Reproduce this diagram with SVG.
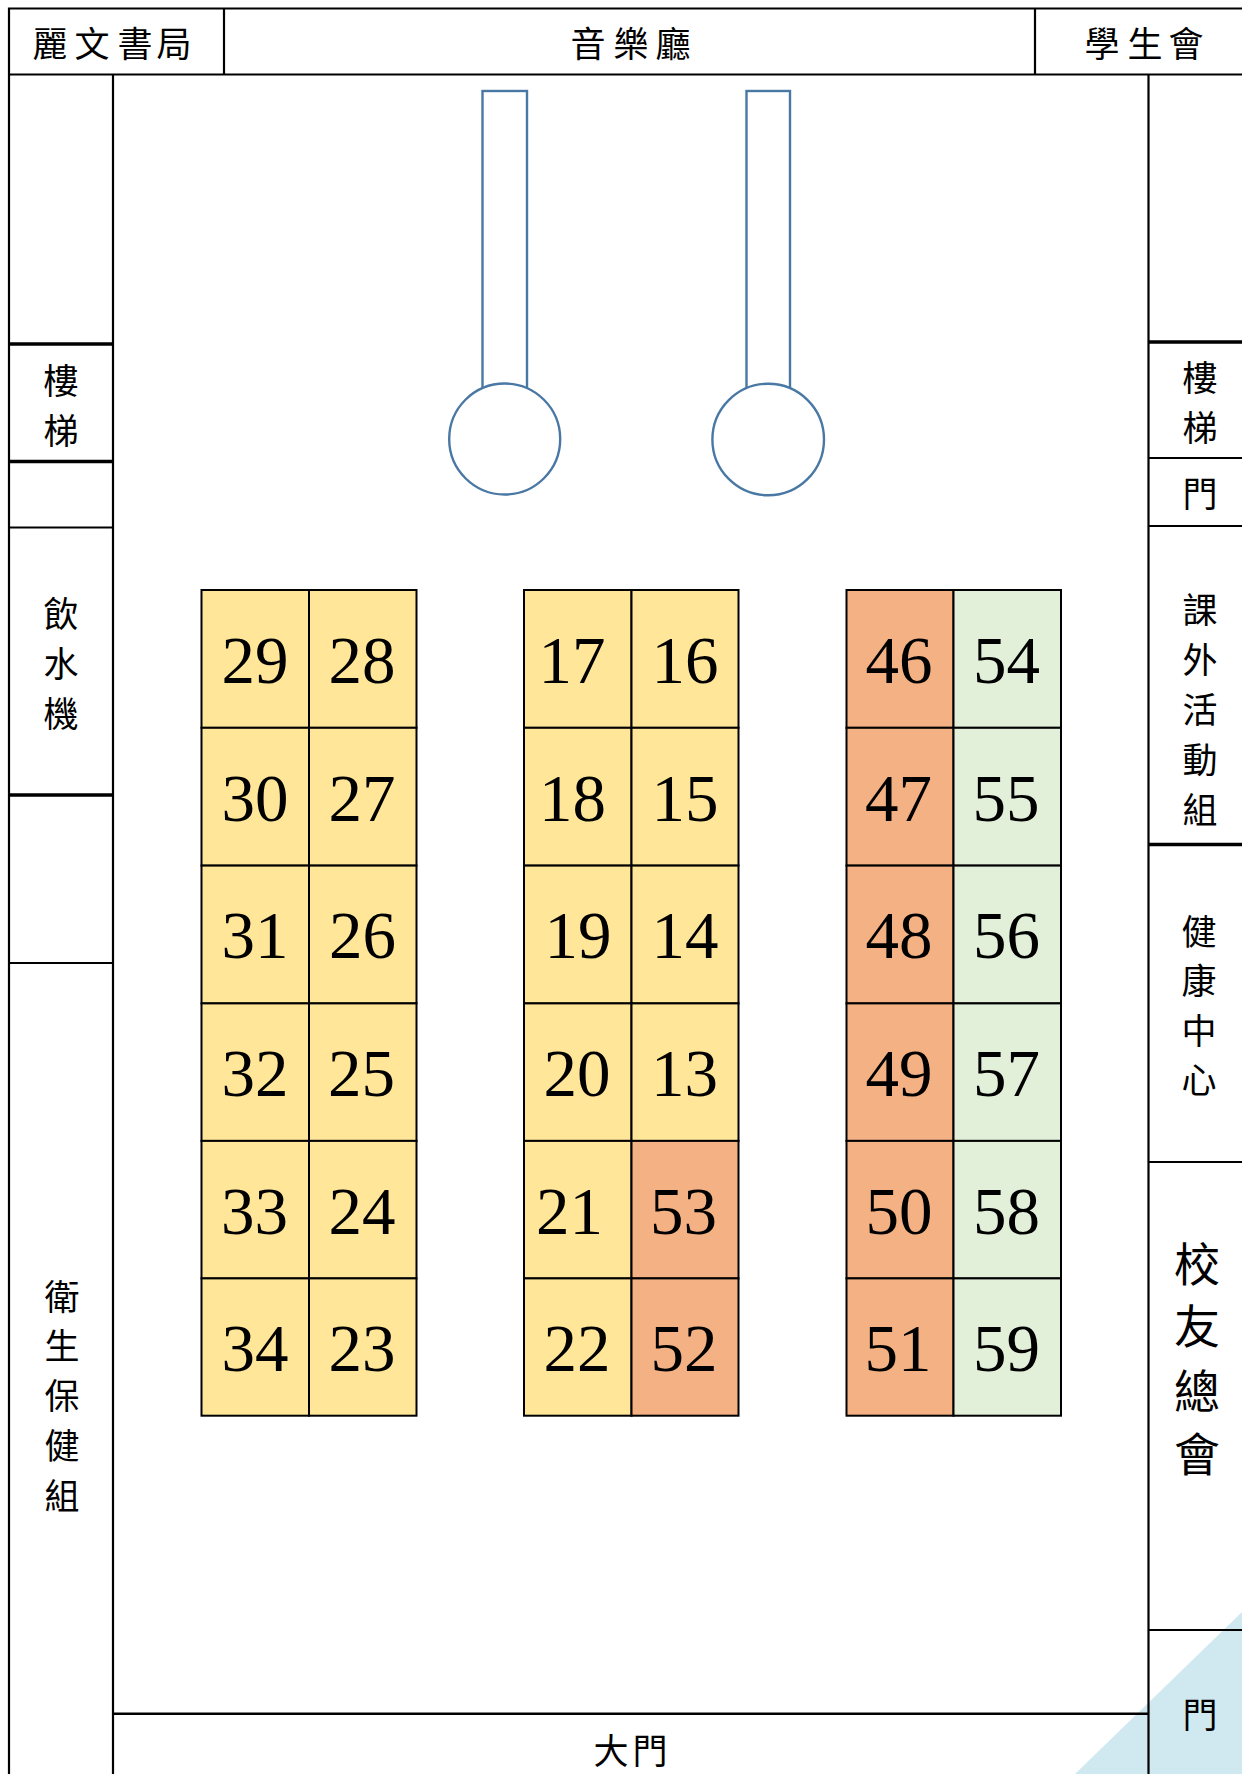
<svg xmlns="http://www.w3.org/2000/svg" width="1242" height="1774" viewBox="0 0 1242 1774">
<style>
.w{stroke:#000;stroke-width:2.2;fill:none}
.t{stroke:#000;stroke-width:3.4;fill:none}
.c{font-family:"Noto Sans CJK TC","Noto Sans CJK SC",sans-serif;font-size:35px;text-anchor:middle;fill:#000}
.n{font-family:"Liberation Serif",serif;font-size:67px;text-anchor:middle;fill:#000}
.y{fill:#FFE699;stroke:#000;stroke-width:2}
.o{fill:#F4B183;stroke:#000;stroke-width:2}
.g{fill:#E2F0D9;stroke:#000;stroke-width:2}
.p{fill:#fff;stroke:#4A78A4;stroke-width:2.4}
</style>
<rect width="1242" height="1774" fill="#fff"/>
<polygon id="door-corner" points="1075,1774 1242,1612 1242,1774" fill="#D0E9F1"/>
<g id="walls">
<path class="w" d="M9 1774V8.500H1242M9 74.500H1242M224 8.500V74.500M1035 8.500V74.500M113 74.500V1774M1148.500 74.500V1774"/>
<path class="t" d="M9 344H113M9 461.500H113M9 795H113M1148.500 342H1242M1148.500 844.500H1242"/>
<path class="w" d="M9 527.500H113M9 963H113M1148.500 458H1242M1148.500 526H1242M1148.500 1162H1242M1148.500 1630H1242"/>
<path class="t" d="M113 1713.700H1148.500" style="stroke-width:2.600"/>
</g>
<g id="shop"><text class="c" x="50 92 135 174" y="57">麗文書局</text></g>
<g id="hall"><text class="c" x="588 631 673" y="57">音樂廳</text></g>
<g id="union"><text class="c" x="1102 1145 1186" y="57">學生會</text></g>
<g id="stairs-left"><text class="c" x="61 61" y="394 444">樓梯</text></g>
<g id="water"><text class="c" x="61 61 61" y="627 677 727">飲水機</text></g>
<g id="health-group"><text class="c" x="62 62 62 62 62" y="1310 1359 1409 1459 1509">衛生保健組</text></g>
<g id="stairs-right"><text class="c" x="1200 1200" y="391 441">樓梯</text></g>
<g id="door-upper"><text class="c" x="1200" y="507">門</text></g>
<g id="activities"><text class="c" x="1200 1200 1200 1200 1200" y="623 673 723 773 823">課外活動組</text></g>
<g id="health-center"><text class="c" x="1199 1199 1199 1199" y="945 994 1044 1093">健康中心</text></g>
<g id="alumni"><text class="c" style="font-size:46px" x="1197 1197 1197 1197" y="1281 1343 1408 1471">校友總會</text></g>
<g id="door-lower"><text class="c" x="1200" y="1728">門</text></g>
<g id="main-door"><text class="c" x="611 650" y="1764">大門</text></g>
<g id="pillar-1"><rect class="p" x="482.500" y="91" width="44.500" height="310"/><circle class="p" cx="504.700" cy="439" r="55.500"/></g>
<g id="pillar-2"><rect class="p" x="746.500" y="91" width="43.500" height="310"/><circle class="p" cx="768.200" cy="439.500" r="55.800"/></g>
<g id="s29"><rect class="y" x="201.500" y="590" width="107.500" height="137.800"/><text class="n" x="255" y="683">29</text></g>
<g id="s28"><rect class="y" x="309" y="590" width="107.500" height="137.800"/><text class="n" x="362" y="683">28</text></g>
<g id="s30"><rect class="y" x="201.500" y="727.800" width="107.500" height="137.800"/><text class="n" x="255" y="821">30</text></g>
<g id="s27"><rect class="y" x="309" y="727.800" width="107.500" height="137.800"/><text class="n" x="362" y="821">27</text></g>
<g id="s31"><rect class="y" x="201.500" y="865.600" width="107.500" height="137.800"/><text class="n" x="255" y="958">31</text></g>
<g id="s26"><rect class="y" x="309" y="865.600" width="107.500" height="137.800"/><text class="n" x="362.500" y="958">26</text></g>
<g id="s32"><rect class="y" x="201.500" y="1003.400" width="107.500" height="137.500"/><text class="n" x="255" y="1096">32</text></g>
<g id="s25"><rect class="y" x="309" y="1003.400" width="107.500" height="137.500"/><text class="n" x="361.500" y="1096">25</text></g>
<g id="s33"><rect class="y" x="201.500" y="1140.900" width="107.500" height="137.500"/><text class="n" x="254.500" y="1234">33</text></g>
<g id="s24"><rect class="y" x="309" y="1140.900" width="107.500" height="137.500"/><text class="n" x="362" y="1234">24</text></g>
<g id="s34"><rect class="y" x="201.500" y="1278.400" width="107.500" height="137.300"/><text class="n" x="255" y="1371">34</text></g>
<g id="s23"><rect class="y" x="309" y="1278.400" width="107.500" height="137.300"/><text class="n" x="362" y="1371">23</text></g>
<g id="s17"><rect class="y" x="524" y="590" width="107.500" height="137.800"/><text class="n" x="572" y="683">17</text></g>
<g id="s16"><rect class="y" x="631.500" y="590" width="107" height="137.800"/><text class="n" x="685" y="683">16</text></g>
<g id="s18"><rect class="y" x="524" y="727.800" width="107.500" height="137.800"/><text class="n" x="572.500" y="821">18</text></g>
<g id="s15"><rect class="y" x="631.500" y="727.800" width="107" height="137.800"/><text class="n" x="685" y="821">15</text></g>
<g id="s19"><rect class="y" x="524" y="865.600" width="107.500" height="137.800"/><text class="n" x="578" y="958">19</text></g>
<g id="s14"><rect class="y" x="631.500" y="865.600" width="107" height="137.800"/><text class="n" x="685" y="958">14</text></g>
<g id="s20"><rect class="y" x="524" y="1003.400" width="107.500" height="137.500"/><text class="n" x="577" y="1096">20</text></g>
<g id="s13"><rect class="y" x="631.500" y="1003.400" width="107" height="137.500"/><text class="n" x="684.500" y="1096">13</text></g>
<g id="s21"><rect class="y" x="524" y="1140.900" width="107.500" height="137.500"/><text class="n" x="569.500" y="1234">21</text></g>
<g id="s53"><rect class="o" x="631.500" y="1140.900" width="107" height="137.500"/><text class="n" x="683.500" y="1234">53</text></g>
<g id="s22"><rect class="y" x="524" y="1278.400" width="107.500" height="137.300"/><text class="n" x="577" y="1371">22</text></g>
<g id="s52"><rect class="o" x="631.500" y="1278.400" width="107" height="137.300"/><text class="n" x="684" y="1371">52</text></g>
<g id="s46"><rect class="o" x="846.500" y="590" width="107" height="137.800"/><text class="n" x="899" y="683">46</text></g>
<g id="s54"><rect class="g" x="953.500" y="590" width="107.500" height="137.800"/><text class="n" x="1006.500" y="683">54</text></g>
<g id="s47"><rect class="o" x="846.500" y="727.800" width="107" height="137.800"/><text class="n" x="898.500" y="821">47</text></g>
<g id="s55"><rect class="g" x="953.500" y="727.800" width="107.500" height="137.800"/><text class="n" x="1006" y="821">55</text></g>
<g id="s48"><rect class="o" x="846.500" y="865.600" width="107" height="137.800"/><text class="n" x="899" y="958">48</text></g>
<g id="s56"><rect class="g" x="953.500" y="865.600" width="107.500" height="137.800"/><text class="n" x="1006.500" y="958">56</text></g>
<g id="s49"><rect class="o" x="846.500" y="1003.400" width="107" height="137.500"/><text class="n" x="899" y="1096">49</text></g>
<g id="s57"><rect class="g" x="953.500" y="1003.400" width="107.500" height="137.500"/><text class="n" x="1006.500" y="1096">57</text></g>
<g id="s50"><rect class="o" x="846.500" y="1140.900" width="107" height="137.500"/><text class="n" x="899" y="1234">50</text></g>
<g id="s58"><rect class="g" x="953.500" y="1140.900" width="107.500" height="137.500"/><text class="n" x="1006.500" y="1234">58</text></g>
<g id="s51"><rect class="o" x="846.500" y="1278.400" width="107" height="137.300"/><text class="n" x="898" y="1371">51</text></g>
<g id="s59"><rect class="g" x="953.500" y="1278.400" width="107.500" height="137.300"/><text class="n" x="1006.500" y="1371">59</text></g>
</svg>
